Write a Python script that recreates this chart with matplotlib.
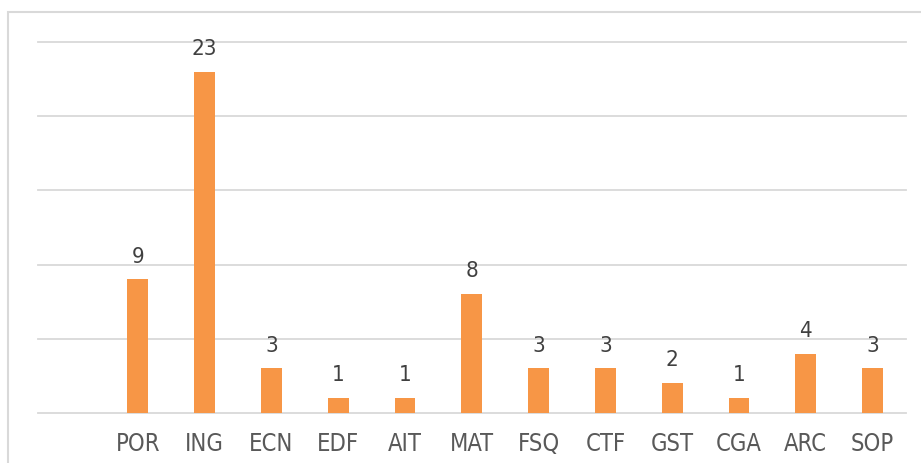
import numpy as np
import matplotlib.pyplot as plt
from matplotlib.patches import Rectangle

# categories and counts (first slot is empty in the original chart)
labels = ['POR', 'ING', 'ECN', 'EDF', 'AIT', 'MAT', 'FSQ', 'CTF', 'GST', 'CGA', 'ARC', 'SOP']
counts = [9, 23, 3, 1, 1, 8, 3, 3, 2, 1, 4, 3]
yticks = [0, 5, 10, 15, 20, 25]

plt.rcParams['font.family'] = ['DejaVu Sans']
plt.rcParams['font.stretch'] = 'condensed'

fig = plt.figure(figsize=(9.21, 4.64), dpi=100)
ax = fig.add_axes([0.0408, 0.1078, 0.9429, 0.7995])

x = np.arange(1, len(labels) + 1)
bars = ax.bar(x, counts, width=0.31, color='#F79646', zorder=3)

for xi, c in zip(x, counts):
    ax.annotate(str(c), (xi, c), xytext=(0, 10), textcoords='offset points',
                ha='center', va='bottom', fontsize=16, color='#404040')

ax.set_xlim(-0.5, len(labels) + 0.5)
ax.set_ylim(0, 25)
ax.set_yticks(yticks)
ax.set_yticklabels([])
ax.set_xticks(x)
ax.set_xticklabels(labels, fontsize=17, color='#595959')
ax.tick_params(axis='both', length=0)
ax.tick_params(axis='x', pad=13)
ax.grid(axis='y', color='#d9d9d9', linewidth=1.3, zorder=0)
for g in ax.get_ygridlines():
    g.set_clip_on(False)
for s in ax.spines.values():
    s.set_visible(False)

# outer chart frame
fig.patches.append(Rectangle((8 / 921, -0.1), 1.2, (464 - 13) / 464 + 0.1,
                             transform=fig.transFigure, fill=False,
                             edgecolor='#d9d9d9', linewidth=1.5))

plt.savefig('out.png', dpi=100)
